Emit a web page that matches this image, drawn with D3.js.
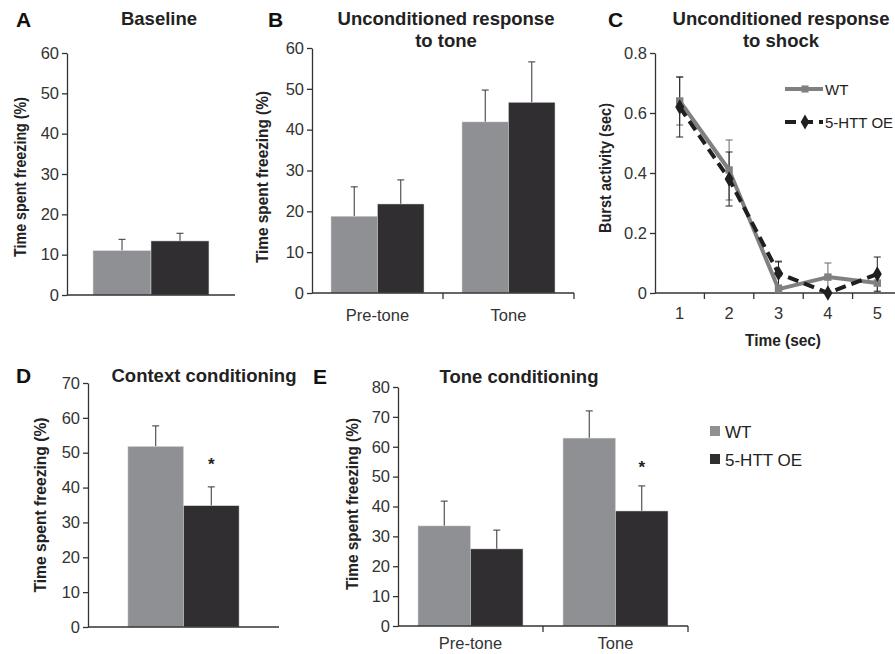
<!DOCTYPE html>
<html>
<head>
<meta charset="utf-8">
<script src="https://cdn.jsdelivr.net/npm/d3@7"></script>
<style>
  html, body { margin: 0; padding: 0; background: #fff; }
  svg { display: block; font-family: "Liberation Sans", Arial, sans-serif; }
  .tick text { fill: #333; }
</style>
</head>
<body>
<svg id="chart" width="895" height="654"></svg>
<script>
// ---------------- DATA ----------------
const groups = ["WT", "5-HTT OE"];
const groupColors = ["#8f9094", "#302e30"];

// A: Baseline
const baselineMean = [11.0, 13.4];
const baselineErr = [2.8, 1.9];

// B: Unconditioned response to tone
const toneCats = ["Pre-tone", "Tone"];
const uncondToneWT = [18.8, 41.9];
const uncondToneWTErr = [7.2, 7.8];
const uncondToneOE = [21.8, 46.7];
const uncondToneOEErr = [5.9, 9.9];

// C: Unconditioned response to shock
const shockTime = [1, 2, 3, 4, 5];
const shockWT = [0.64, 0.41, 0.013, 0.053, 0.033];
const shockWTErr = [0.08, 0.10, 0.09, 0.047, 0.03];
const shockOE = [0.62, 0.38, 0.066, 0.0, 0.063];
const shockOEErr = [0.10, 0.09, 0.04, 0.0, 0.057];

// D: Context conditioning
const contextMean = [51.8, 34.8];
const contextErr = [5.9, 5.4];

// E: Tone conditioning
const toneCondWT = [33.5, 62.9];
const toneCondWTErr = [8.3, 9.1];
const toneCondOE = [25.8, 38.5];
const toneCondOEErr = [6.3, 8.4];

// tick labels
const yTicksA = [0, 10, 20, 30, 40, 50, 60];
const yTicksB = [0, 10, 20, 30, 40, 50, 60];
const yTicksC = [0, 0.2, 0.4, 0.6, 0.8];
const yTicksD = [0, 10, 20, 30, 40, 50, 60, 70];
const yTicksE = [0, 10, 20, 30, 40, 50, 60, 70, 80];

// ---------------- DRAWING ----------------
const svg = d3.select("#chart");
const AX = "#333";

function styleAxis(g) {
  g.selectAll("path.domain").attr("stroke", AX).attr("stroke-width", 1.3);
  g.selectAll(".tick line").attr("stroke", AX).attr("stroke-width", 1.3);
  g.selectAll(".tick text").attr("font-size", "16.5px");
}

function yAxis(y, x0, ticks, fmt) {
  const g = svg.append("g").attr("transform", `translate(${x0},0)`)
    .call(d3.axisLeft(y).tickValues(ticks).tickSize(5).tickPadding(3).tickSizeOuter(0).tickFormat(fmt || d3.format("d")));
  styleAxis(g);
  return g;
}

function yLabel(text, x, yc, len) {
  svg.append("text")
    .attr("transform", `translate(${x},${yc}) rotate(-90)`)
    .attr("text-anchor", "middle")
    .attr("font-weight", "bold")
    .attr("font-size", "17px")
    .attr("fill", "#222")
    .attr("textLength", len)
    .attr("lengthAdjust", "spacingAndGlyphs")
    .text(text);
}

function title(lines, x, y) {
  lines.forEach((t, i) => {
    svg.append("text").attr("x", x).attr("y", y + i * 21.5)
      .attr("text-anchor", "middle").attr("font-weight", "bold")
      .attr("font-size", "18.5px").attr("fill", "#222").text(t);
  });
}

function letter(t, x, y) {
  svg.append("text").attr("x", x).attr("y", y)
    .attr("font-weight", "bold").attr("font-size", "21px").attr("fill", "#111").text(t);
}

function star(x, y) {
  svg.append("text").attr("x", x).attr("y", y).attr("text-anchor", "middle")
    .attr("font-weight", "bold").attr("font-size", "17px").attr("fill", "#222").text("*");
}

// Bar panel
function barPanel(opt) {
  const x = d3.scaleBand().domain(opt.cats).range([opt.x0, opt.x1]).padding(0);
  const bw = x.bandwidth();
  const xg = d3.scaleBand().domain(groups).range([bw * opt.f, bw * (1 - opt.f)]).padding(0);
  const y = d3.scaleLinear().domain([0, opt.max]).range([opt.yb, opt.yt]);

  const data = [];
  opt.cats.forEach((c, ci) => {
    groups.forEach((gname, gi) => {
      data.push({ c, g: gname, gi, v: opt.vals[gi][ci], e: opt.errs[gi][ci] });
    });
  });

  // error bars (upward only)
  const eg = svg.append("g");
  data.forEach(d => {
    const cx = x(d.c) + xg(d.g) + xg.bandwidth() / 2;
    eg.append("line").attr("x1", cx).attr("x2", cx).attr("y1", y(d.v)).attr("y2", y(d.v + d.e))
      .attr("stroke", "#444").attr("stroke-width", 1.1);
    eg.append("line").attr("x1", cx - 3.5).attr("x2", cx + 3.5).attr("y1", y(d.v + d.e)).attr("y2", y(d.v + d.e))
      .attr("stroke", "#444").attr("stroke-width", 1.1);
  });

  svg.append("g").selectAll("rect").data(data).join("rect")
    .attr("x", d => x(d.c) + xg(d.g))
    .attr("width", xg.bandwidth())
    .attr("y", d => y(d.v))
    .attr("height", d => y(0) - y(d.v))
    .attr("fill", d => groupColors[d.gi])
    .attr("stroke", "#d8d8d8").attr("stroke-width", 0.5);

  yAxis(y, opt.x0, opt.ticks);

  // x axis
  const xa = svg.append("g").attr("transform", `translate(0,${opt.yb})`);
  xa.append("line").attr("x1", opt.x0).attr("x2", opt.x1).attr("stroke", AX).attr("stroke-width", 1.3);
  if (opt.catLabels) {
    const bounds = opt.cats.slice(1).map(c => x(c)).concat([opt.x1]);
    bounds.forEach(bx => {
      xa.append("line").attr("x1", bx).attr("x2", bx).attr("y1", 0).attr("y2", 6)
        .attr("stroke", AX).attr("stroke-width", 1.3);
    });
    opt.cats.forEach(c => {
      xa.append("text").attr("x", x(c) + bw / 2).attr("y", opt.labelDy).attr("text-anchor", "middle")
        .attr("font-size", "16.5px").attr("fill", "#333").text(c);
    });
  }
  return { x, xg, y };
}

// ---- A ----
barPanel({ cats: ["Baseline"], x0: 67, x1: 235, f: 0.155, yt: 53, yb: 295, max: 60,
  vals: [[baselineMean[0]], [baselineMean[1]]], errs: [[baselineErr[0]], [baselineErr[1]]],
  ticks: yTicksA, catLabels: false });
letter("A", 16, 27);
title(["Baseline"], 159, 24.5);
yLabel("Time spent freezing (%)", 26, 177, 160);

// ---- B ----
barPanel({ cats: toneCats, x0: 312, x1: 574, f: 0.145, yt: 48, yb: 293, max: 60,
  vals: [uncondToneWT, uncondToneOE], errs: [uncondToneWTErr, uncondToneOEErr],
  ticks: yTicksB, catLabels: true, labelDy: 28 });
letter("B", 268, 27);
title(["Unconditioned response", "to tone"], 446, 25);
yLabel("Time spent freezing (%)", 268, 177, 172);

// ---- C ----
(function () {
  const x = d3.scaleBand().domain(shockTime).range([655, 902]).padding(0);
  const y = d3.scaleLinear().domain([0, 0.8]).range([293, 53]);
  const cx = d => x(d) + x.bandwidth() / 2;

  yAxis(y, 655, yTicksC, d => d === 0 ? "0" : d3.format(".1f")(d));
  const xa = svg.append("g").attr("transform", "translate(0,293)");
  xa.append("line").attr("x1", 655).attr("x2", 902).attr("stroke", AX).attr("stroke-width", 1.3);
  shockTime.slice(1).forEach(t => {
    xa.append("line").attr("x1", x(t)).attr("x2", x(t)).attr("y1", 0).attr("y2", 6)
      .attr("stroke", AX).attr("stroke-width", 1.3);
  });
  shockTime.forEach(t => {
    xa.append("text").attr("x", cx(t)).attr("y", 26).attr("text-anchor", "middle")
      .attr("font-size", "16.5px").attr("fill", "#333").text(t);
  });

  const series = [
    { vals: shockWT, errs: shockWTErr, color: "#808080", dash: null, marker: "square", ecol: "#666" },
    { vals: shockOE, errs: shockOEErr, color: "#1f1f1f", dash: "11,6", marker: "diamond", ecol: "#222" }
  ];
  series.forEach(s => {
    shockTime.forEach((t, i) => {
      if (s.errs[i] <= 0) return;
      const lo = Math.max(0, s.vals[i] - s.errs[i]), hi = s.vals[i] + s.errs[i];
      const g = svg.append("g").attr("stroke", s.ecol).attr("stroke-width", 1);
      g.append("line").attr("x1", cx(t)).attr("x2", cx(t)).attr("y1", y(lo)).attr("y2", y(hi));
      g.append("line").attr("x1", cx(t) - 3.5).attr("x2", cx(t) + 3.5).attr("y1", y(hi)).attr("y2", y(hi));
      if (s.vals[i] - s.errs[i] > 0)
        g.append("line").attr("x1", cx(t) - 3.5).attr("x2", cx(t) + 3.5).attr("y1", y(lo)).attr("y2", y(lo));
    });
  });
  const line = d3.line().x((d, i) => cx(shockTime[i])).y(d => y(d));
  series.forEach(s => {
    svg.append("path").datum(s.vals).attr("d", line).attr("fill", "none")
      .attr("stroke", s.color).attr("stroke-width", 4)
      .attr("stroke-dasharray", s.dash).attr("stroke-linejoin", "round");
  });
  const sym = { square: d3.symbolSquare, diamond: d3.symbolDiamond };
  series.forEach(s => {
    svg.append("g").selectAll("path").data(s.vals).join("path")
      .attr("transform", (d, i) => `translate(${cx(shockTime[i])},${y(d)})`)
      .attr("d", d3.symbol().type(sym[s.marker]).size(s.marker === "square" ? 55 : 70))
      .attr("fill", s.color);
  });

  // legend
  const leg = [{ y: 89, s: series[0], t: "WT" }, { y: 122, s: series[1], t: "5-HTT OE" }];
  leg.forEach(L => {
    svg.append("line").attr("x1", 785).attr("x2", 823).attr("y1", L.y).attr("y2", L.y)
      .attr("stroke", L.s.color).attr("stroke-width", 4).attr("stroke-dasharray", L.s.dash);
    svg.append("path").attr("transform", `translate(805,${L.y})`)
      .attr("d", d3.symbol().type(sym[L.s.marker]).size(L.s.marker === "square" ? 50 : 65))
      .attr("fill", L.s.color);
    svg.append("text").attr("x", 825).attr("y", L.y + 6).attr("font-size", "15px")
      .attr("fill", "#222").text(L.t);
  });

  letter("C", 608, 27);
  title(["Unconditioned response", "to shock"], 781, 25);
  yLabel("Burst activity (sec)", 611, 168, 130);
  svg.append("text").attr("x", 783).attr("y", 346).attr("text-anchor", "middle")
    .attr("font-weight", "bold").attr("font-size", "16px").attr("fill", "#222")
    .attr("textLength", 76).attr("lengthAdjust", "spacingAndGlyphs").text("Time (sec)");
})();

// ---- D ----
const pD = barPanel({ cats: ["Context"], x0: 88, x1: 279, f: 0.209, yt: 383, yb: 627, max: 70,
  vals: [[contextMean[0]], [contextMean[1]]], errs: [[contextErr[0]], [contextErr[1]]],
  ticks: yTicksD, catLabels: false });
letter("D", 16, 383);
title(["Context conditioning"], 204, 382);
yLabel("Time spent freezing (%)", 46, 505, 175);
star(pD.x("Context") + pD.xg("5-HTT OE") + pD.xg.bandwidth() / 2, 470);

// ---- E ----
const pE = barPanel({ cats: toneCats, x0: 398, x1: 688, f: 0.138, yt: 387, yb: 626, max: 80,
  vals: [toneCondWT, toneCondOE], errs: [toneCondWTErr, toneCondOEErr],
  ticks: yTicksE, catLabels: true, labelDy: 23 });
letter("E", 313, 384);
title(["Tone conditioning"], 519, 383);
yLabel("Time spent freezing (%)", 358, 504, 172);
star(pE.x("Tone") + pE.xg("5-HTT OE") + pE.xg.bandwidth() / 2, 473);

// E legend
groups.forEach((gname, i) => {
  const yy = 426 + i * 28;
  svg.append("rect").attr("x", 710).attr("y", yy).attr("width", 10).attr("height", 10).attr("fill", groupColors[i]);
  svg.append("text").attr("x", 725).attr("y", yy + 12).attr("font-size", "17px").attr("fill", "#222").text(gname);
});
</script>
</body>
</html>
